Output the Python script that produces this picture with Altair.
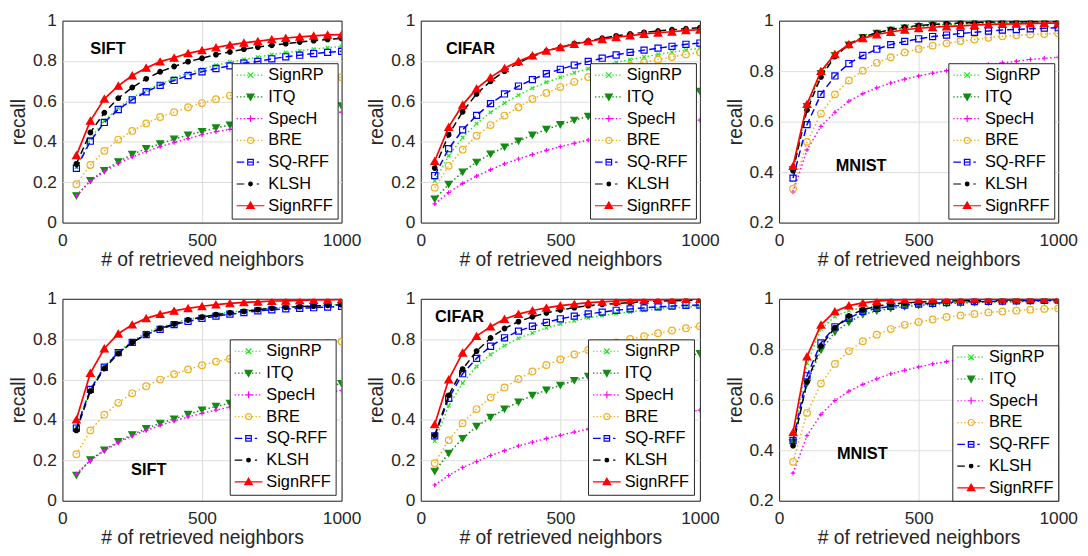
import altair as alt
import pandas as pd

x_vals = [50, 100, 150, 200, 250, 300, 350, 400, 450, 500,
          550, 600, 650, 700, 750, 800, 850, 900, 950, 1000]
methods = ["SignRP", "ITQ", "SpecH", "BRE", "SQ-RFF", "KLSH", "SignRFF"]

panel_names = ["SIFT", "CIFAR", "MNIST", "SIFT", "CIFAR", "MNIST"]
panel_ymin = [0, 0, 0.2, 0, 0, 0.2]
title_x = [163, 178, 294, 309, 139, 298]
title_y = [0.86, 0.86, 0.424, 0.15, 0.908, 0.383]

sift_top = {
    "SignRP": [0.274, 0.416, 0.504, 0.568, 0.619, 0.656, 0.686, 0.715, 0.741, 0.760, 0.779, 0.795, 0.808, 0.819, 0.832, 0.842, 0.850, 0.859, 0.866, 0.872],
    "ITQ": [0.133, 0.208, 0.258, 0.301, 0.338, 0.366, 0.390, 0.413, 0.434, 0.451, 0.469, 0.483, 0.496, 0.508, 0.520, 0.532, 0.543, 0.554, 0.565, 0.578],
    "SpecH": [0.133, 0.205, 0.253, 0.293, 0.325, 0.352, 0.376, 0.397, 0.416, 0.435, 0.450, 0.462, 0.475, 0.486, 0.497, 0.507, 0.517, 0.527, 0.537, 0.547],
    "BRE": [0.190, 0.285, 0.355, 0.411, 0.454, 0.491, 0.523, 0.547, 0.571, 0.592, 0.611, 0.629, 0.643, 0.655, 0.667, 0.678, 0.689, 0.699, 0.709, 0.720],
    "SQ-RFF": [0.269, 0.403, 0.496, 0.560, 0.608, 0.648, 0.680, 0.704, 0.728, 0.747, 0.763, 0.776, 0.790, 0.798, 0.811, 0.821, 0.829, 0.837, 0.843, 0.848],
    "KLSH": [0.291, 0.446, 0.544, 0.616, 0.669, 0.712, 0.747, 0.773, 0.797, 0.814, 0.832, 0.845, 0.859, 0.869, 0.878, 0.886, 0.894, 0.901, 0.907, 0.912],
    "SignRFF": [0.333, 0.504, 0.613, 0.677, 0.728, 0.766, 0.797, 0.816, 0.838, 0.853, 0.867, 0.880, 0.890, 0.898, 0.907, 0.914, 0.920, 0.925, 0.930, 0.931],
}
cifar_top = {
    "SignRP": [0.207, 0.331, 0.421, 0.490, 0.546, 0.592, 0.631, 0.666, 0.695, 0.719, 0.742, 0.762, 0.778, 0.793, 0.807, 0.820, 0.833, 0.844, 0.854, 0.864],
    "ITQ": [0.117, 0.189, 0.250, 0.299, 0.339, 0.374, 0.404, 0.433, 0.462, 0.485, 0.507, 0.526, 0.545, 0.563, 0.579, 0.594, 0.609, 0.623, 0.637, 0.650],
    "SpecH": [0.093, 0.149, 0.194, 0.230, 0.262, 0.291, 0.315, 0.337, 0.358, 0.376, 0.393, 0.409, 0.423, 0.436, 0.449, 0.461, 0.473, 0.485, 0.496, 0.507],
    "BRE": [0.173, 0.281, 0.361, 0.430, 0.483, 0.530, 0.571, 0.612, 0.642, 0.671, 0.697, 0.721, 0.743, 0.759, 0.777, 0.793, 0.807, 0.820, 0.833, 0.843],
    "SQ-RFF": [0.233, 0.366, 0.459, 0.531, 0.589, 0.637, 0.676, 0.708, 0.737, 0.759, 0.780, 0.798, 0.814, 0.830, 0.843, 0.854, 0.864, 0.873, 0.883, 0.889],
    "KLSH": [0.270, 0.435, 0.549, 0.637, 0.700, 0.750, 0.791, 0.823, 0.849, 0.868, 0.886, 0.900, 0.913, 0.925, 0.934, 0.942, 0.949, 0.955, 0.960, 0.965],
    "SignRFF": [0.305, 0.473, 0.583, 0.663, 0.719, 0.764, 0.799, 0.827, 0.851, 0.868, 0.884, 0.897, 0.908, 0.918, 0.926, 0.934, 0.940, 0.945, 0.952, 0.955],
}
mnist_top = {
    "SignRP": [0.410, 0.665, 0.795, 0.865, 0.905, 0.935, 0.952, 0.964, 0.972, 0.978, 0.983, 0.986, 0.988, 0.990, 0.991, 0.992, 0.993, 0.994, 0.995, 0.995],
    "ITQ": [0.410, 0.660, 0.790, 0.862, 0.903, 0.933, 0.950, 0.962, 0.971, 0.977, 0.982, 0.985, 0.988, 0.990, 0.991, 0.992, 0.993, 0.994, 0.995, 0.995],
    "SpecH": [0.321, 0.488, 0.581, 0.637, 0.681, 0.711, 0.734, 0.753, 0.768, 0.781, 0.792, 0.802, 0.811, 0.819, 0.826, 0.833, 0.839, 0.846, 0.851, 0.855],
    "BRE": [0.334, 0.520, 0.632, 0.708, 0.763, 0.802, 0.833, 0.855, 0.874, 0.888, 0.901, 0.910, 0.919, 0.925, 0.932, 0.938, 0.942, 0.945, 0.947, 0.950],
    "SQ-RFF": [0.376, 0.588, 0.708, 0.781, 0.830, 0.862, 0.887, 0.905, 0.918, 0.928, 0.937, 0.943, 0.949, 0.954, 0.959, 0.963, 0.965, 0.968, 0.970, 0.972],
    "KLSH": [0.406, 0.646, 0.777, 0.858, 0.906, 0.936, 0.952, 0.965, 0.974, 0.981, 0.985, 0.988, 0.991, 0.992, 0.994, 0.995, 0.995, 0.996, 0.996, 0.997],
    "SignRFF": [0.424, 0.669, 0.800, 0.867, 0.906, 0.930, 0.945, 0.955, 0.964, 0.970, 0.974, 0.977, 0.979, 0.982, 0.985, 0.986, 0.987, 0.988, 0.990, 0.990],
}
sift_bot = {
    "SignRP": [0.363, 0.554, 0.665, 0.737, 0.791, 0.833, 0.859, 0.880, 0.898, 0.911, 0.924, 0.934, 0.942, 0.950, 0.955, 0.959, 0.963, 0.966, 0.969, 0.972],
    "ITQ": [0.126, 0.203, 0.251, 0.293, 0.327, 0.357, 0.384, 0.405, 0.428, 0.449, 0.467, 0.483, 0.496, 0.509, 0.521, 0.533, 0.545, 0.556, 0.567, 0.580],
    "SpecH": [0.133, 0.199, 0.248, 0.288, 0.321, 0.348, 0.373, 0.395, 0.415, 0.433, 0.449, 0.464, 0.476, 0.487, 0.498, 0.508, 0.518, 0.528, 0.537, 0.546],
    "BRE": [0.230, 0.348, 0.426, 0.485, 0.532, 0.567, 0.600, 0.627, 0.650, 0.671, 0.689, 0.703, 0.718, 0.732, 0.745, 0.756, 0.765, 0.773, 0.781, 0.788],
    "SQ-RFF": [0.360, 0.551, 0.661, 0.733, 0.784, 0.823, 0.849, 0.872, 0.888, 0.903, 0.914, 0.924, 0.932, 0.940, 0.945, 0.950, 0.953, 0.956, 0.959, 0.963],
    "KLSH": [0.348, 0.543, 0.655, 0.729, 0.784, 0.823, 0.853, 0.875, 0.895, 0.909, 0.921, 0.930, 0.938, 0.946, 0.953, 0.958, 0.961, 0.964, 0.968, 0.971],
    "SignRFF": [0.402, 0.632, 0.754, 0.827, 0.872, 0.903, 0.924, 0.940, 0.953, 0.963, 0.971, 0.977, 0.982, 0.985, 0.989, 0.990, 0.992, 0.994, 0.995, 0.997],
}
cifar_bot = {
    "SignRP": [0.295, 0.470, 0.583, 0.665, 0.724, 0.768, 0.804, 0.831, 0.856, 0.875, 0.891, 0.906, 0.917, 0.927, 0.935, 0.943, 0.950, 0.955, 0.959, 0.963],
    "ITQ": [0.146, 0.235, 0.308, 0.368, 0.413, 0.454, 0.489, 0.522, 0.548, 0.572, 0.595, 0.616, 0.632, 0.647, 0.661, 0.675, 0.689, 0.703, 0.716, 0.729],
    "SpecH": [0.078, 0.125, 0.165, 0.194, 0.224, 0.248, 0.271, 0.290, 0.308, 0.324, 0.340, 0.355, 0.368, 0.380, 0.392, 0.403, 0.414, 0.425, 0.437, 0.449],
    "BRE": [0.186, 0.300, 0.384, 0.454, 0.511, 0.561, 0.603, 0.640, 0.672, 0.700, 0.724, 0.747, 0.767, 0.784, 0.801, 0.815, 0.830, 0.843, 0.854, 0.864],
    "SQ-RFF": [0.321, 0.507, 0.629, 0.705, 0.765, 0.807, 0.840, 0.864, 0.883, 0.901, 0.914, 0.925, 0.934, 0.943, 0.950, 0.955, 0.960, 0.964, 0.968, 0.969],
    "KLSH": [0.324, 0.522, 0.652, 0.741, 0.806, 0.853, 0.887, 0.911, 0.930, 0.945, 0.956, 0.966, 0.972, 0.977, 0.982, 0.985, 0.989, 0.990, 0.992, 0.994],
    "SignRFF": [0.378, 0.600, 0.733, 0.815, 0.862, 0.900, 0.924, 0.942, 0.955, 0.966, 0.974, 0.981, 0.985, 0.989, 0.992, 0.994, 0.995, 0.997, 0.998, 0.999],
}
mnist_bot = {
    "SignRP": [0.445, 0.745, 0.880, 0.930, 0.953, 0.965, 0.972, 0.977, 0.980, 0.982, 0.984, 0.985, 0.986, 0.987, 0.988, 0.989, 0.990, 0.991, 0.991, 0.992],
    "ITQ": [0.430, 0.665, 0.797, 0.868, 0.907, 0.938, 0.952, 0.962, 0.969, 0.974, 0.978, 0.981, 0.983, 0.985, 0.987, 0.988, 0.989, 0.990, 0.991, 0.993],
    "SpecH": [0.309, 0.458, 0.542, 0.597, 0.634, 0.661, 0.683, 0.703, 0.717, 0.730, 0.742, 0.751, 0.760, 0.769, 0.778, 0.785, 0.792, 0.798, 0.803, 0.810],
    "BRE": [0.354, 0.548, 0.664, 0.742, 0.793, 0.832, 0.858, 0.880, 0.897, 0.908, 0.918, 0.928, 0.934, 0.940, 0.946, 0.950, 0.953, 0.957, 0.960, 0.962],
    "SQ-RFF": [0.438, 0.695, 0.825, 0.889, 0.923, 0.950, 0.962, 0.970, 0.975, 0.979, 0.982, 0.985, 0.987, 0.989, 0.990, 0.991, 0.992, 0.993, 0.994, 0.995],
    "KLSH": [0.418, 0.671, 0.813, 0.886, 0.932, 0.957, 0.970, 0.979, 0.984, 0.987, 0.989, 0.991, 0.992, 0.993, 0.994, 0.995, 0.995, 0.996, 0.996, 0.996],
    "SignRFF": [0.471, 0.771, 0.897, 0.950, 0.973, 0.984, 0.991, 0.995, 0.997, 0.998, 0.999, 0.999, 0.999, 1.0, 1.0, 1.0, 1.0, 1.0, 1.0, 1.0],
}
panels = [sift_top, cifar_top, mnist_top, sift_bot, cifar_bot, mnist_bot]
legend_offsets = [4, 4, 4, 6, 6, 0]

# ---- styles ----
colors = ["#22e622", "#138a13", "#ff00ff", "#edb120", "#0000ff", "#000000", "#ff0000"]
marker_fills = ["transparent", "#138a13", "transparent", "transparent", "transparent", "#000000", "#ff0000"]
X_PATH = "M-1,-1L1,1M-1,1L1,-1"
PLUS_PATH = "M-1,0L1,0M0,-1L0,1"
marker_shapes = [X_PATH, "triangle-down", PLUS_PATH, "circle", "square", "circle", "triangle-up"]
marker_sizes = [13, 48, 20, 45, 38, 22, 60]
dashes = [[1.5, 2.5], [1.5, 2.5], [1.5, 2.5], [1.5, 2.5], [7, 4], [7, 4], []]
line_widths = [1.5, 1.5, 1.5, 1.5, 1.5, 1.5, 1.7]


def seg_path(segs):
    return "".join(f"M{a:.2f},0H{b:.2f}" for a, b in segs)


dotted = seg_path([(-1 + 0.25 * k, -1 + 0.25 * k + 0.1) for k in range(9) if -1 + 0.25 * k + 0.1 <= 1.0])
dashed = seg_path([(-1, -0.45), (-0.15, 0.15), (0.45, 0.62)])
solid = "M-1,0H1"
leg_markers = [
    "M-0.2,-0.2L0.2,0.2M-0.2,0.2L0.2,-0.2",
    "M-0.25,-0.2L0.25,-0.2L0,0.25Z",
    "M-0.25,0L0.25,0M0,-0.25L0,0.25",
    "M0.22,0A0.22,0.22 0 1,1 -0.22,0A0.22,0.22 0 1,1 0.22,0Z",
    "M-0.2,-0.2H0.2V0.2H-0.2Z",
    "M0.13,0A0.13,0.13 0 1,1 -0.13,0A0.13,0.13 0 1,1 0.13,0Z",
    "M0,-0.27L0.27,0.2L-0.27,0.2Z",
]
leg_lines = [dotted, dotted, dotted, dotted, dashed, dashed, solid]
legend_paths = [leg_lines[k] + leg_markers[k] for k in range(len(methods))]

FONT = "Liberation Sans"
TXT = "#262626"
GRID = "#dedede"


def make_panel(i):
    data = panels[i]
    rows = [{"x": xv, "recall": yv, "method": m}
            for m in methods for xv, yv in zip(x_vals, data[m])]
    df = pd.DataFrame(rows)
    ymin = panel_ymin[i]
    yticks = [0, 0.2, 0.4, 0.6, 0.8, 1] if ymin == 0 else [0.2, 0.4, 0.6, 0.8, 1]

    xaxis = alt.Axis(
        values=[0, 500, 1000], format="d", title="# of retrieved neighbors", grid=True,
        gridColor={"condition": {"test": "datum.value > 0 && datum.value < 1000", "value": GRID}, "value": TXT},
        domain=False, ticks=False, labelFlush=False, labelFontSize=17.5, labelFont=FONT,
        labelColor=TXT, labelPadding=9, titleFont=FONT, titleFontSize=19.5,
        titleFontWeight="normal", titleColor=TXT, titlePadding=2,
    )
    yaxis = alt.Axis(
        values=yticks, format="~g", title="recall", grid=True,
        gridColor={"condition": {"test": f"datum.value > {ymin} && datum.value < 1", "value": GRID}, "value": TXT},
        domain=False, ticks=False, labelFlush=False, labelFontSize=17.5, labelFont=FONT,
        labelColor=TXT, labelPadding=6, titleFont=FONT, titleFontSize=19.5,
        titleFontWeight="normal", titleColor=TXT, titlePadding=4,
    )
    xenc = alt.X("x:Q", scale=alt.Scale(domain=[0, 1000], nice=False), axis=xaxis)
    yenc = alt.Y("recall:Q", scale=alt.Scale(domain=[ymin, 1], nice=False, zero=False), axis=yaxis)
    base = alt.Chart(df).encode(x=xenc, y=yenc)

    layers = []
    for j, m in enumerate(methods):
        sub = base.transform_filter(alt.datum.method == m)
        lk = dict(color=colors[j], strokeWidth=line_widths[j], clip=True)
        if dashes[j]:
            lk["strokeDash"] = dashes[j]
        layers.append(sub.mark_line(**lk))
        layers.append(sub.mark_point(shape=marker_shapes[j], size=marker_sizes[j],
                                     stroke=colors[j], fill=marker_fills[j], filled=False,
                                     strokeWidth=1.2, opacity=1, clip=True))

    leg = alt.Legend(orient="bottom-right", offset=legend_offsets[i], fillColor="white",
                     strokeColor=TXT, padding=4, rowPadding=5, labelFont=FONT,
                     labelFontSize=16.5, labelColor="black", labelOffset=3,
                     symbolSize=784, symbolStrokeWidth=1.2, symbolOpacity=1,
                     clipHeight=16, zindex=1)
    legend_layer = base.transform_filter("false").mark_point(filled=False, opacity=1).encode(
        shape=alt.Shape("method:N", scale=alt.Scale(domain=methods, range=legend_paths), title=None, legend=leg),
        stroke=alt.Stroke("method:N", scale=alt.Scale(domain=methods, range=colors), title=None, legend=leg),
        fill=alt.Fill("method:N", scale=alt.Scale(domain=methods, range=marker_fills), title=None, legend=leg),
    )
    layers.append(legend_layer)

    tdf = pd.DataFrame({"x": [title_x[i]], "recall": [title_y[i]], "name": [panel_names[i]]})
    text = alt.Chart(tdf).mark_text(font=FONT, fontWeight="bold", fontSize=16.5,
                                    color="black", align="center", baseline="middle").encode(
        x="x:Q", y="recall:Q", text="name:N")
    layers.append(text)

    return alt.layer(*layers).properties(width=282, height=204)


charts = [make_panel(i) for i in range(6)]
chart = alt.concat(*charts, columns=3, spacing={"row": 77, "column": 80}, bounds="flush").resolve_scale(
    shape="independent", stroke="independent", fill="independent"
).resolve_legend(
    shape="independent", stroke="independent", fill="independent"
).properties(
    padding={"left": 0, "top": 0, "right": 2, "bottom": 0}
).configure_view(stroke=TXT, strokeWidth=1).configure(font=FONT)

chart.save("out.html", embed_options={"renderer": "svg", "actions": False})
